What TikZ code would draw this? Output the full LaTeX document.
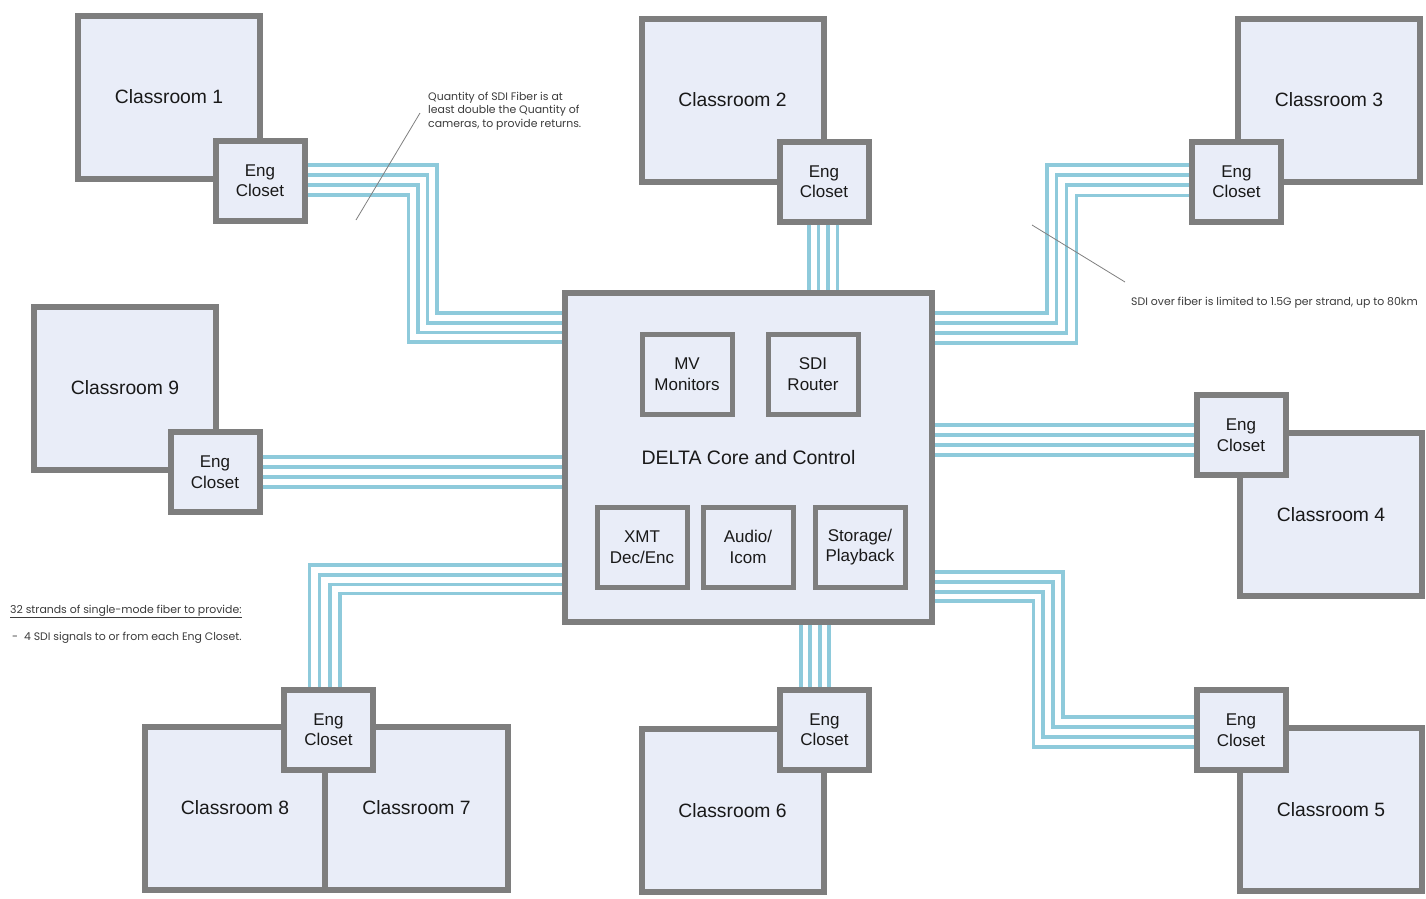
\documentclass[tikz,border=0pt]{standalone}
\usepackage{fontspec}
\setmainfont{Liberation Sans}
\newfontfamily\notefont{Poppins}
\definecolor{boxfill}{RGB}{233,237,248}
\definecolor{boxline}{RGB}{126,126,126}
\definecolor{fibre}{RGB}{142,202,219}
\definecolor{notegray}{RGB}{60,60,60}
\definecolor{txt}{RGB}{25,25,25}
\begin{document}
\begin{tikzpicture}[x=1pt,y=-1pt,
  room/.style={draw=boxline, fill=boxfill, line width=6pt, minimum width=182pt, minimum height=163pt, inner sep=0pt, text=txt, font=\fontsize{19.3}{22}\selectfont},
  closet/.style={draw=boxline, fill=boxfill, line width=6pt, minimum width=89pt, minimum height=80pt, inner sep=0pt, align=center, text=txt, font=\fontsize{17}{20.5}\selectfont},
  corebox/.style={draw=boxline, fill=boxfill, line width=6.5pt, minimum width=367pt, minimum height=329pt, inner sep=0pt, text=txt, font=\fontsize{19.5}{22}\selectfont},
  unit/.style={draw=boxline, fill=boxfill, line width=5pt, minimum width=90pt, minimum height=80pt, inner sep=0pt, align=center, text=txt, font=\fontsize{17}{20.5}\selectfont},
  fiber/.style={draw=fibre, line width=3.5pt},
  leader/.style={draw=gray, line width=0.8pt},
  note/.style={font=\notefont\fontsize{10.9}{13.5}\selectfont, text=notegray, inner sep=0pt, align=left}
]
\useasboundingbox (0,0) rectangle (1426,898);
\fill[white] (0,0) rectangle (1426,898);

% classrooms
\node[room] (r1) at (169,97) {Classroom 1};
\node[room] (r2) at (732.5,100) {Classroom 2};
\node[room] (r3) at (1329,100) {Classroom 3};
\node[room] (r9) at (125,388) {Classroom 9};
\node[room] (r4) at (1331,514.5) {Classroom 4};
\node[room] (r5) at (1331,809.5) {Classroom 5};
\node[room, minimum height=163pt] (r6) at (732.5,810.5) {Classroom 6};
\node[room, minimum width=180pt] (r8) at (235,808) {Classroom 8};
\node[room, minimum width=183pt] (r7) at (416.5,808) {Classroom 7};

% eng closets
\node[closet] (e1) at (260,180.5) {Eng\\Closet};
\node[closet] (e2) at (824,181.5) {Eng\\Closet};
\node[closet] (e3) at (1236.5,181.5) {Eng\\Closet};
\node[closet] (e9) at (215,472) {Eng\\Closet};
\node[closet] (e4) at (1241,435) {Eng\\Closet};
\node[closet] (e5) at (1241,730) {Eng\\Closet};
\node[closet] (e6) at (824.5,729.5) {Eng\\Closet};
\node[closet] (e78) at (328.5,729.5) {Eng\\Closet};

% core
\node[corebox] (core) at (748.5,457.5) {DELTA Core and Control};
\node[unit] (mv) at (687,374) {MV\\Monitors};
\node[unit] (sdi) at (813,374) {SDI\\Router};
\node[unit] (xmt) at (642,547) {XMT\\Dec/Enc};
\node[unit] (aud) at (748,547) {Audio/\\Icom};
\node[unit] (sto) at (860,547) {Storage/\\Playback};

% fibres
\foreach \ya/\xt/\yb in {165/437/313, 175/427.5/323, 185/418/332.5, 195/408.5/342}
  \draw[fiber] (e1.east |- 0,\ya) -- (\xt,\ya) -- (\xt,\yb) -- (core.west |- 0,\yb);
\foreach \x in {809,818.5,828,837.5}
  \draw[fiber] (e2.south -| \x,0) -- (core.north -| \x,0);
\foreach \ya/\xt/\yb in {165/1047/313, 175/1056.5/323, 185/1066.5/333, 195.5/1076.5/343}
  \draw[fiber] (e3.west |- 0,\ya) -- (\xt,\ya) -- (\xt,\yb) -- (core.east |- 0,\yb);
\foreach \y in {457,467,477,487}
  \draw[fiber] (e9.east |- 0,\y) -- (core.west |- 0,\y);
\foreach \y in {425,435,445,455}
  \draw[fiber] (core.east |- 0,\y) -- (e4.west |- 0,\y);
\foreach \ya/\xt/\yb in {572/1063/717, 582/1053/727, 592/1043/737, 601/1033.5/747}
  \draw[fiber] (core.east |- 0,\ya) -- (\xt,\ya) -- (\xt,\yb) -- (e5.west |- 0,\yb);
\foreach \x in {801,810,820,829}
  \draw[fiber] (core.south -| \x,0) -- (e6.north -| \x,0);
\foreach \ya/\xt in {565/309.5, 575/319.5, 584.5/330, 593.5/340}
  \draw[fiber] (core.west |- 0,\ya) -- (\xt,\ya) -- (e78.north -| \xt,0);

% notes
\node[note, anchor=north west] (nq) at (428,91.7) {Quantity of SDI Fiber is at\\least double the Quantity of\\cameras, to provide returns.};
\coordinate (q1) at (420,113);
\coordinate (q2) at (356,220);
\draw[leader] (q1) -- (q2);
\node[note, anchor=west] (ns) at (1131,303) {SDI over fiber is limited to 1.5G per strand, up to 80km};
\coordinate (s1) at (1032,225);
\coordinate (s2) at (1125,282);
\draw[leader] (s1) -- (s2);
\node[note, anchor=west] (n32) at (10,611.5) {\underline{32 strands of single-mode fiber to provide:}};
\node[note, anchor=west] (n4) at (12,638) {-\ \ 4 SDI signals to or from each Eng Closet.};
\end{tikzpicture}
\end{document}
